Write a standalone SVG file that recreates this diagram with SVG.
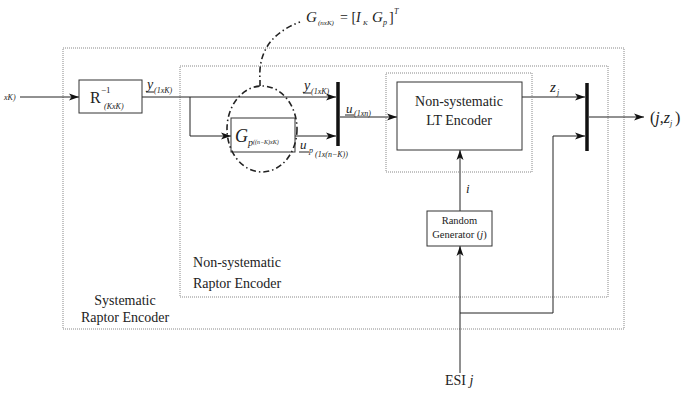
<svg xmlns="http://www.w3.org/2000/svg" width="687" height="400" viewBox="0 0 687 400">
<style>
  .ln{fill:none;stroke:#222;stroke-width:1}
  .box{fill:#fff;stroke:#333;stroke-width:1}
  .dot{fill:none;stroke:#888;stroke-width:1;stroke-dasharray:1 1}
  .bus{stroke:#111;stroke-width:3.5}
  .dd{fill:none;stroke:#222;stroke-width:1.6;stroke-dasharray:6 3 1.5 3}
  text{font-family:"Liberation Serif","DejaVu Serif",serif;fill:#222}
  .it{font-style:italic}
  .sb{font-size:8px;font-style:italic}
  .lb{font-size:14px}
</style>
<defs>
  <marker id="ah" markerUnits="userSpaceOnUse" markerWidth="10" markerHeight="8" refX="10" refY="4" orient="auto">
    <path d="M0,0.5 L10,4 L0,7.5 L2.5,4 z" fill="#111"/>
  </marker>
</defs>
<rect width="687" height="400" fill="#fff"/>

<g id="systematic-raptor">
  <rect class="dot" x="63" y="48" width="561" height="281"/>
  <text class="lb" x="125" y="305" text-anchor="middle">Systematic</text>
  <text class="lb" x="125" y="322" text-anchor="middle">Raptor Encoder</text>
</g>
<g id="nonsys-raptor">
  <rect class="dot" x="180" y="66" width="428" height="231"/>
  <text class="lb" x="237" y="267" text-anchor="middle">Non-systematic</text>
  <text class="lb" x="237" y="288" text-anchor="middle">Raptor Encoder</text>
</g>

<g id="connectors">
  <line class="ln" x1="20" y1="97" x2="79" y2="97" marker-end="url(#ah)"/>
  <line class="ln" x1="142" y1="97" x2="336" y2="97" marker-end="url(#ah)"/>
  <polyline class="ln" points="190,97 190,136 231,136" marker-end="url(#ah)"/>
  <line class="ln" x1="295" y1="136" x2="336" y2="136" marker-end="url(#ah)"/>
  <line class="ln" x1="340" y1="117" x2="397" y2="117" marker-end="url(#ah)"/>
  <line class="ln" x1="522" y1="97" x2="585" y2="97" marker-end="url(#ah)"/>
  <polyline class="ln" points="460,313 553,313 553,136 585,136" marker-end="url(#ah)"/>
  <line class="ln" x1="589" y1="117" x2="644" y2="117" marker-end="url(#ah)"/>
  <line class="ln" x1="460" y1="211" x2="460" y2="150" marker-end="url(#ah)"/>
  <line class="ln" x1="460" y1="373" x2="460" y2="246" marker-end="url(#ah)"/>
</g>

<g id="input-label">
  <text class="sb" x="4" y="100">xK)</text>
</g>

<g id="r-inverse">
  <rect class="box" x="79" y="80" width="63" height="33"/>
  <text x="90" y="103" font-size="16">R</text>
  <text x="101" y="93" font-size="9">−1</text>
  <text class="sb" x="104" y="109">(KxK)</text>
</g>

<g id="y-label-1">
  <text class="it" x="147" y="89" font-size="14">y</text>
  <line class="ln" x1="146" y1="92" x2="154" y2="92"/>
  <text class="sb" x="154" y="93">(1xK)</text>
</g>

<g id="g-p">
  <rect class="box" x="231" y="118" width="64" height="34"/>
  <text class="it" x="235" y="142" font-size="18">G</text>
  <text class="it" x="248" y="146" font-size="10">p</text>
  <text class="it" x="253" y="144" font-size="6">((n−K)xK)</text>
</g>

<g id="g-ellipse">
  <ellipse class="dd" cx="262" cy="129" rx="35" ry="43"/>
  <path class="dd" d="M260,86 L260,80 Q257,38 300,22"/>
  <text class="it" x="306" y="22" font-size="15">G</text>
  <text class="it" x="318" y="25" font-size="7">(nxK)</text>
  <text x="340" y="22" font-size="14">= [<tspan class="it">I</tspan></text>
  <text class="it" x="363" y="25" font-size="7">K</text>
  <text class="it" x="372" y="22" font-size="15">G</text>
  <text class="it" x="383" y="25" font-size="8">p</text>
  <text x="389" y="22" font-size="14">]</text>
  <text class="it" x="394" y="14" font-size="8">T</text>
</g>

<g id="y-label-2">
  <text class="it" x="304" y="90" font-size="14">y</text>
  <line class="ln" x1="303" y1="93" x2="311" y2="93"/>
  <text class="sb" x="311" y="94">(1xK)</text>
</g>

<g id="up-label">
  <text class="it" x="300" y="149" font-size="13">u</text>
  <line class="ln" x1="299" y1="152" x2="309" y2="152"/>
  <text class="it" x="309" y="153" font-size="8">p</text>
  <text class="sb" x="315" y="157">(1x(n−K))</text>
</g>

<g id="bus-1">
  <line class="bus" x1="338" y1="82" x2="338" y2="146"/>
</g>

<g id="u-label">
  <text class="it" x="346" y="113" font-size="13">u</text>
  <line class="ln" x1="345" y1="115" x2="354" y2="115"/>
  <text class="sb" x="354" y="116">(1xn)</text>
</g>

<g id="lt-encoder">
  <rect class="dot" x="386" y="73" width="146" height="99"/>
  <rect class="box" x="397" y="82" width="125" height="68"/>
  <text class="lb" x="459" y="106" text-anchor="middle">Non-systematic</text>
  <text class="lb" x="459" y="125" text-anchor="middle">LT Encoder</text>
</g>

<g id="zj-label">
  <text class="it" x="550" y="92" font-size="15">z</text>
  <text class="it" x="557" y="95" font-size="8">j</text>
</g>

<g id="bus-2">
  <line class="bus" x1="587" y1="83" x2="587" y2="151"/>
</g>

<g id="output-label">
  <text x="650" y="123" font-size="16">(<tspan class="it">j</tspan>,<tspan class="it">z</tspan></text>
  <text class="it" x="670" y="126" font-size="8">j</text>
  <text x="675" y="123" font-size="16">)</text>
</g>

<g id="i-label">
  <text class="it" x="466" y="193" font-size="13">i</text>
</g>

<g id="random-generator">
  <rect class="box" x="427" y="211" width="65" height="35"/>
  <text x="459.5" y="224" font-size="10.5" text-anchor="middle">Random</text>
  <text x="459.5" y="238" font-size="10.5" text-anchor="middle">Generator (<tspan class="it">j</tspan>)</text>
</g>

<g id="esi-label">
  <text x="445" y="385" font-size="14">ESI <tspan class="it">j</tspan></text>
</g>
</svg>
